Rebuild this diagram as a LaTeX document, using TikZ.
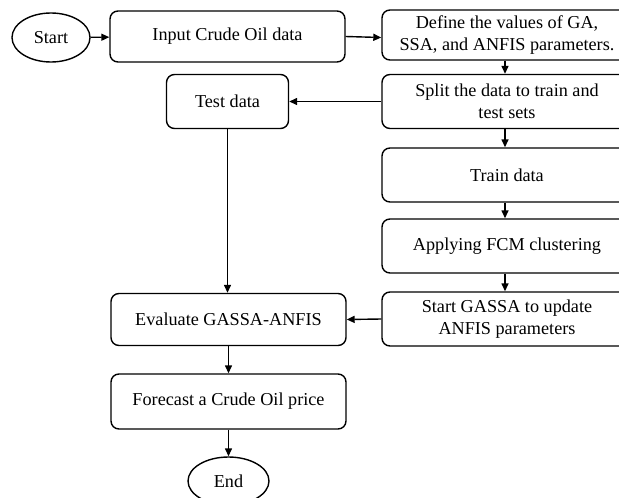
\documentclass[tikz,border=0pt]{standalone}
\usepackage{fontspec}
\setmainfont{Liberation Serif}
\usetikzlibrary{shapes.geometric,arrows.meta}
\begin{document}
\begin{tikzpicture}[x=1pt,y=-1pt,
  every node/.style={font=\fontsize{18.2}{21.5}\selectfont, line width=1.4pt, draw=black, inner sep=2pt},
  procbox/.style={rectangle, rounded corners=8pt, align=center},
  term/.style={ellipse},
  conn/.style={line width=1.4pt, -{Triangle[length=8pt,width=7pt]}}]
\clip (0,0) rectangle (619,498);
\fill[white] (0,0) rectangle (619,498);
\node[term, minimum width=78, minimum height=49] (start) at (51,37.5) {Start};
\node[procbox, minimum width=235, minimum height=51] (input) at (227.5,36.5) {Input Crude Oil data};
\node[procbox, minimum width=250, minimum height=50] (define) at (507,35) {Define the values of GA,\\SSA, and ANFIS parameters.};
\node[procbox, minimum width=250, minimum height=54] (split) at (507,101.5) {Split the data to train and\\test sets};
\node[procbox, minimum width=122, minimum height=54] (test) at (227.5,101.5) {Test data};
\node[procbox, minimum width=250, minimum height=54] (train) at (507,175) {Train data};
\node[procbox, minimum width=250, minimum height=54] (fcm) at (507,246) {Applying FCM clustering};
\node[procbox, minimum width=250, minimum height=54] (gassa) at (507,319) {Start GASSA to update\\ANFIS parameters};
\node[procbox, minimum width=235, minimum height=52] (eval) at (228.5,319.5) {Evaluate GASSA-ANFIS};
\node[procbox, minimum width=235, minimum height=55] (forecast) at (228.5,401.5) {Forecast a Crude Oil price};
\node[term, minimum width=81, minimum height=48] (end) at (228.5,481) {End};
\draw[conn] (start) -- (input);
\draw[conn] (input.east) -- ([yshift=-2.5pt]define.west);
\draw[conn] (define.south -| 505,0) -- (split.north -| 505,0);
\draw[conn] (split.west) -- (test.east);
\draw[conn] (test.south) -- (test.south |- eval.north);
\draw[conn] (split.south -| 505,0) -- (train.north -| 505,0);
\draw[conn] (train.south -| 505,0) -- (fcm.north -| 505,0);
\draw[conn] (fcm.south -| 505,0) -- (gassa.north -| 505,0);
\draw[conn] (gassa.west) -- (eval.east);
\draw[conn] (eval) -- (forecast);
\draw[conn] (forecast) -- (end);
\end{tikzpicture}
\end{document}
